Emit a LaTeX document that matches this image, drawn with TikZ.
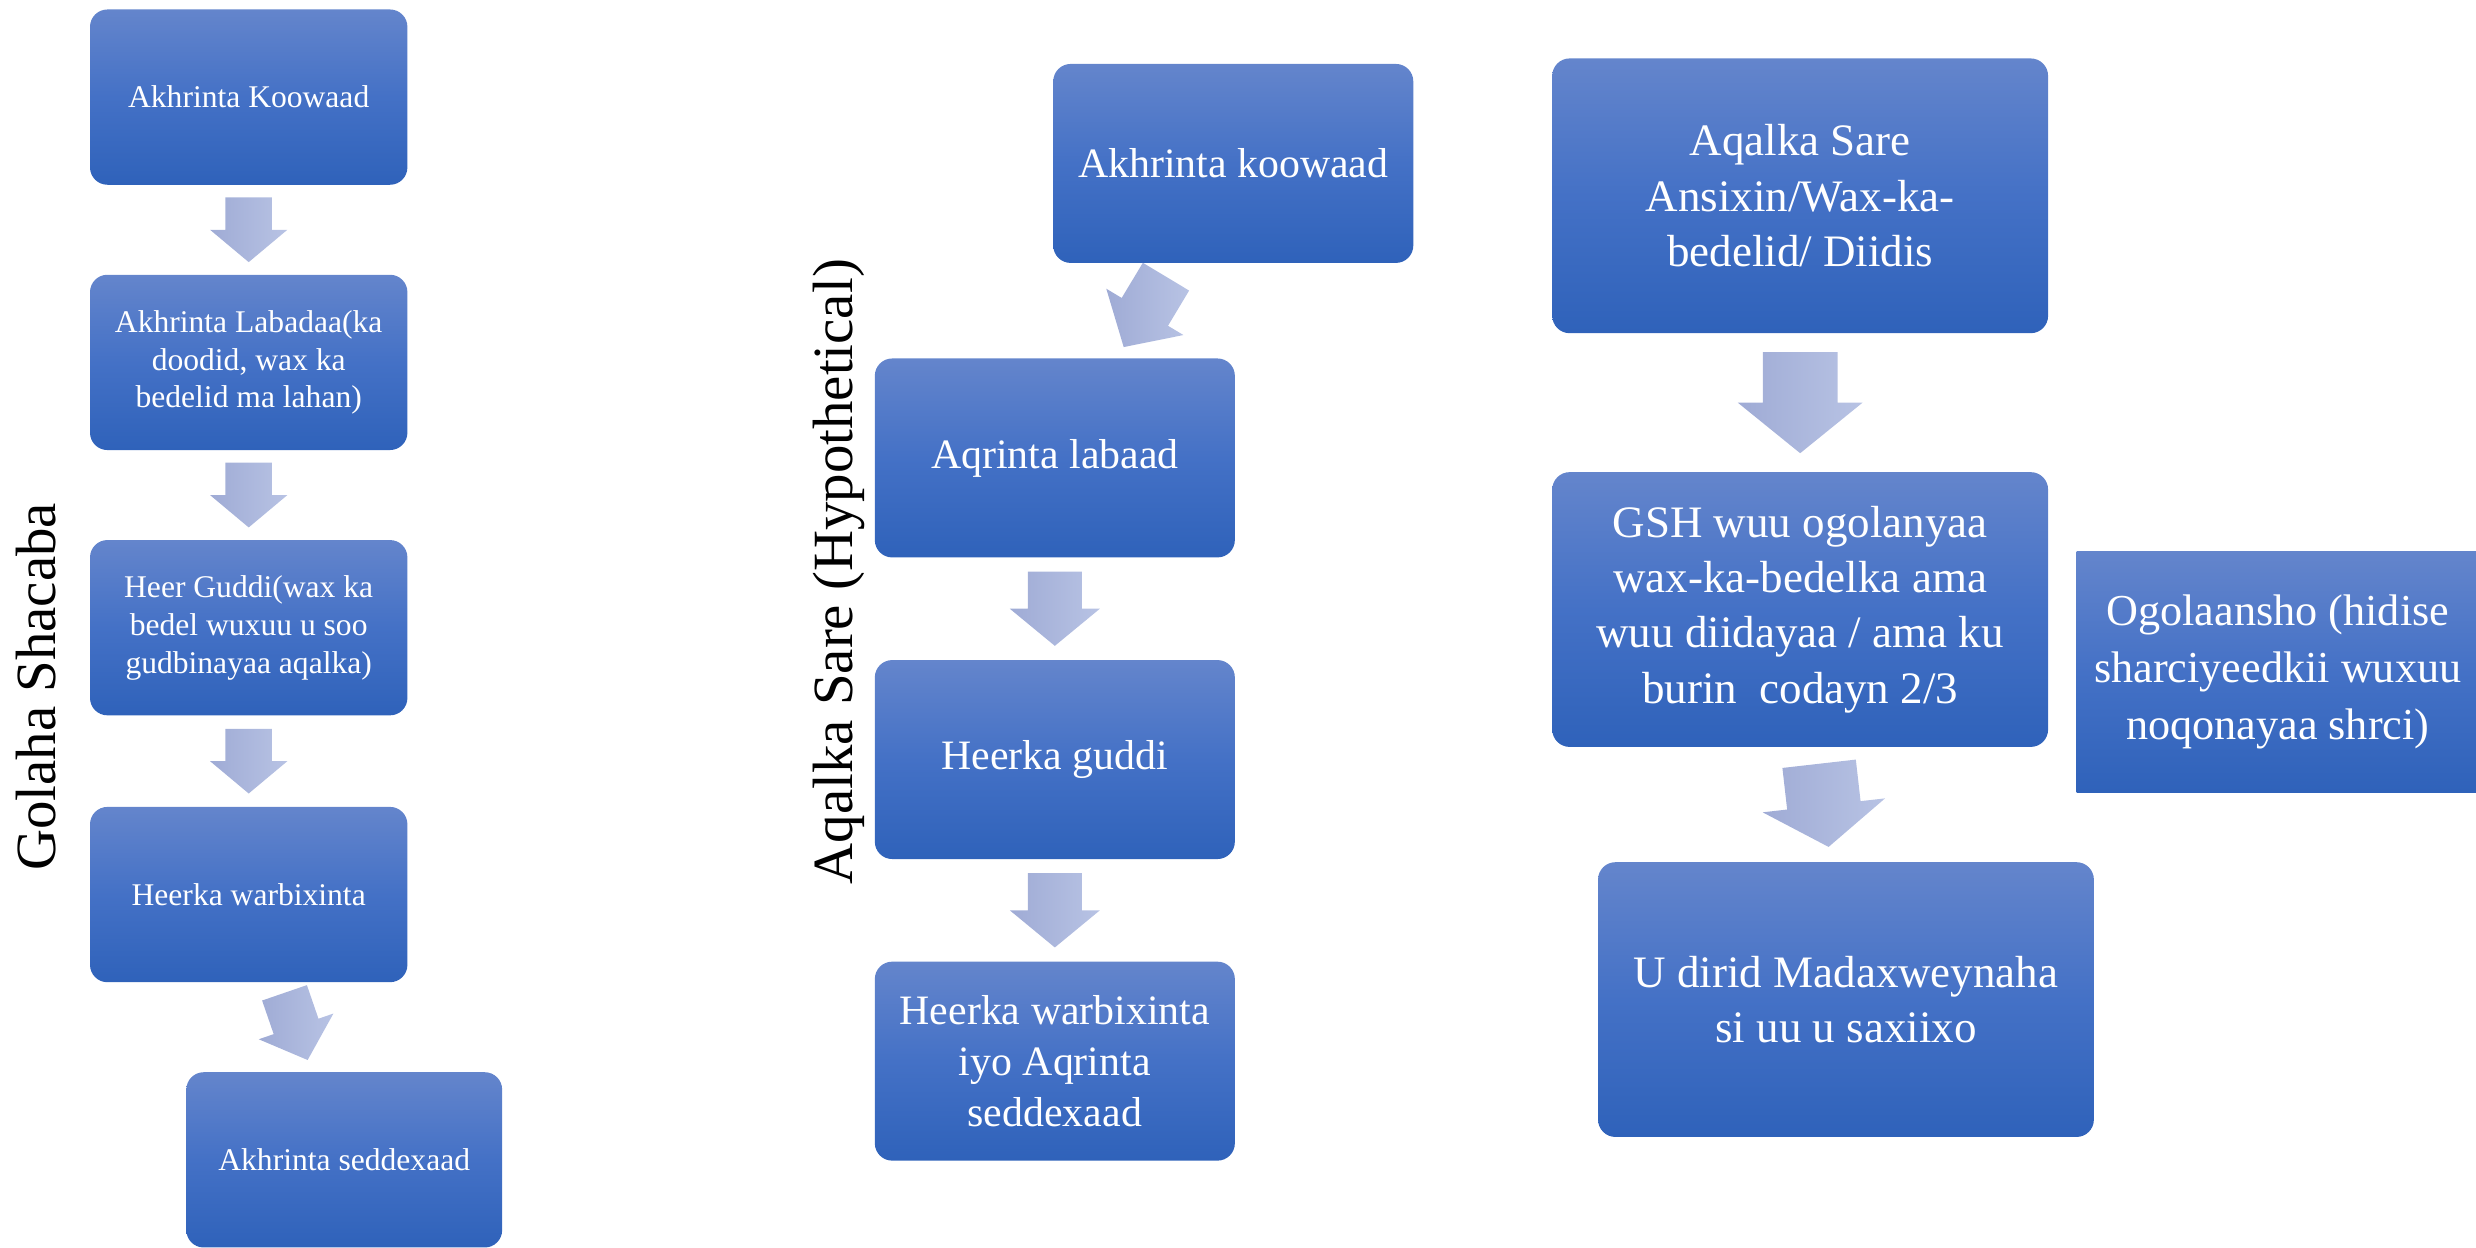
\documentclass[tikz,border=0pt]{standalone}
\usepackage{fontspec}
\setmainfont{Liberation Serif}
\usetikzlibrary{calc}
\definecolor{boxtop}{HTML}{6485CC}
\definecolor{boxmid}{HTML}{4471C6}
\definecolor{boxbot}{HTML}{2F62BA}
\definecolor{arrL}{HTML}{9FABD5}
\definecolor{arrR}{HTML}{B8C3E4}
\begin{document}
\begin{tikzpicture}[x=1pt,y=-1pt,
  flowbox/.style={rounded corners=11pt, top color=boxtop, bottom color=boxbot, middle color=boxmid, text=white, align=center, inner sep=0pt},
  lbox/.style={flowbox, minimum width=201pt, minimum height=111pt, font=\fontsize{20}{24}\selectfont},
  mbox/.style={flowbox, minimum width=228pt, minimum height=126pt, font=\fontsize{26.5}{32}\selectfont},
  rbox/.style={flowbox, minimum width=314pt, minimum height=174pt, font=\fontsize{28.5}{35}\selectfont},
  obox/.style={flowbox, rounded corners=0pt, minimum width=255pt, minimum height=153pt, font=\fontsize{28}{36}\selectfont},
  sidelabel/.style={rotate=90, text=black, inner sep=0pt, font=\fontsize{36}{40}\selectfont},
  blockarrow/.pic={
    \path[left color=arrL, right color=arrR] (-0.3,-0.5) -- (0.3,-0.5) -- (0.3,0) -- (0.5,0) -- (0,0.5) -- (-0.5,0) -- (-0.3,0) -- cycle;
  }]
\useasboundingbox (0,0) rectangle (1568,790);

% left column
\node[sidelabel] (lgolaha) at (23,435) {Golaha Shacaba};
\node[lbox] (b1) at (157.5,61.5) {Akhrinta Koowaad};
\node[lbox] (b2) at (157.5,229.5) {Akhrinta Labadaa(ka\\doodid, wax ka\\bedelid ma lahan)};
\node[lbox] (b3) at (157.5,397.5) {Heer Guddi(wax ka\\bedel wuxuu u soo\\gudbinayaa aqalka)};
\node[lbox] (b4) at (157.5,566.5) {Heerka warbixinta};
\node[lbox, minimum width=200pt] (b5) at (218,734.5) {Akhrinta seddexaad};
\pic[xscale=49,yscale=41] (la1) at ($(b1.south)!0.5!(b2.north)$) {blockarrow};
\pic[xscale=49,yscale=41] (la2) at ($(b2.south)!0.5!(b3.north)$) {blockarrow};
\pic[xscale=49,yscale=41] (la3) at ($(b3.south)!0.5!(b4.north)$) {blockarrow};
\pic[rotate=19,xscale=50,yscale=45] (la4) at (187.5,650) {blockarrow};

% middle column
\node[sidelabel] (laqalka) at (531,362) {Aqalka Sare (Hypothetical)};
\node[mbox] (m1) at (781,103.5) {Akhrinta koowaad};
\node[mbox] (m2) at (668,290) {Aqrinta labaad};
\node[mbox] (m3) at (668,481) {Heerka guddi};
\node[mbox] (m4) at (668,672) {Heerka warbixinta\\iyo Aqrinta\\seddexaad};
\pic[rotate=-31,xscale=57,yscale=52] (ma1) at (725,197.5) {blockarrow};
\pic[xscale=57,yscale=47] (ma2) at ($(m2.south)!0.5!(m3.north)$) {blockarrow};
\pic[xscale=57,yscale=47] (ma3) at ($(m3.south)!0.5!(m4.north)$) {blockarrow};

% right column
\node[rbox] (r1) at (1140,124) {Aqalka Sare\\Ansixin/Wax-ka-\\bedelid/ Diidis};
\node[rbox] (r2) at (1140,386) {GSH wuu ogolanyaa\\wax-ka-bedelka ama\\wuu diidayaa / ama ku\\burin\ \ codayn 2/3};
\node[rbox] (r3) at (1169,633) {U dirid Madaxweynaha\\si uu u saxiixo};
\node[obox] (og) at (1442.5,425.5) {Ogolaansho (hidise\\sharciyeedkii wuxuu\\noqonayaa shrci)};
\pic[xscale=79,yscale=64] (ra1) at ($(r1.south)!0.5!(r2.north)$) {blockarrow};
\pic[rotate=6.5,xscale=78,yscale=53] (ra2) at (1155,510) {blockarrow};
\end{tikzpicture}
\end{document}
